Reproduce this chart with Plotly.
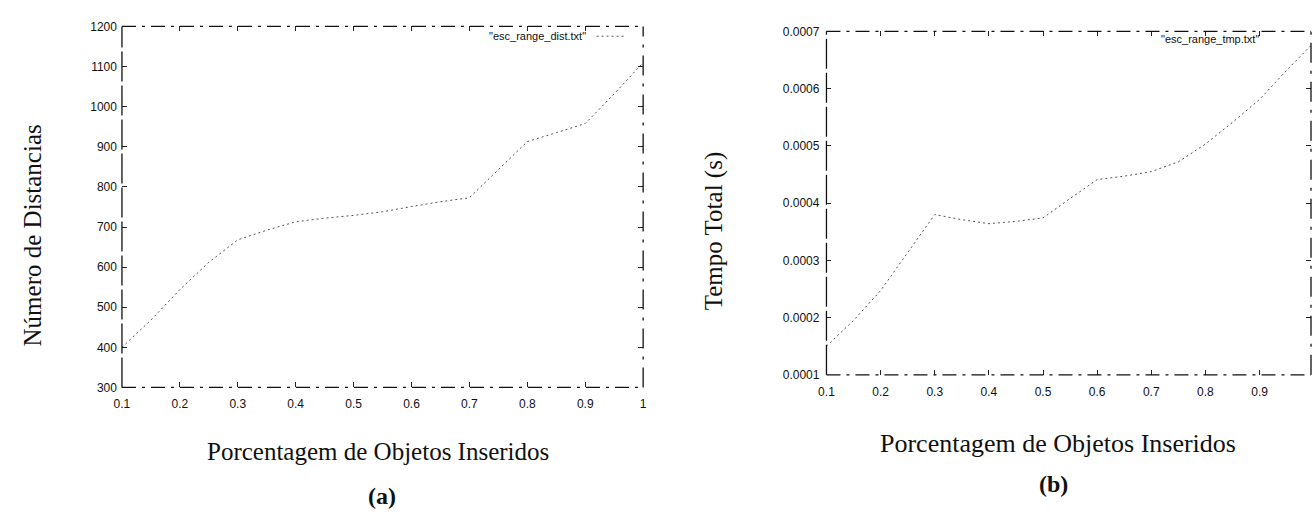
import plotly.graph_objects as go

# ---- data ----
pct = [0.1, 0.15, 0.2, 0.25, 0.3, 0.35, 0.4, 0.45, 0.5, 0.55, 0.6, 0.65, 0.7, 0.75, 0.8, 0.85, 0.9, 0.95, 1.0]
dist = [400, 468, 544, 612, 668, 692, 713, 722, 729, 738, 751, 763, 773, 843, 913, 935, 958, 1032, 1110]
tmp = [0.000150, 0.000195, 0.000247, 0.000313, 0.000380, 0.000371, 0.000364, 0.000368, 0.000374, 0.000408,
       0.000441, 0.000447, 0.000455, 0.000472, 0.000503, 0.000541, 0.000581, 0.000632, 0.000680]
name_a = '"esc_range_dist.txt"'
name_b = '"esc_range_tmp.txt"'

xt_a = [0.1, 0.2, 0.3, 0.4, 0.5, 0.6, 0.7, 0.8, 0.9, 1.0]
xl_a = ["0.1", "0.2", "0.3", "0.4", "0.5", "0.6", "0.7", "0.8", "0.9", "1"]
yt_a = [300, 400, 500, 600, 700, 800, 900, 1000, 1100, 1200]
yl_a = ["300", "400", "500", "600", "700", "800", "900", "1000", "1100", "1200"]
xt_b = [0.1, 0.2, 0.3, 0.4, 0.5, 0.6, 0.7, 0.8, 0.9]
xl_b = ["0.1", "0.2", "0.3", "0.4", "0.5", "0.6", "0.7", "0.8", "0.9"]
yt_b = [0.0001, 0.0002, 0.0003, 0.0004, 0.0005, 0.0006, 0.0007]
yl_b = ["0.0001", "0.0002", "0.0003", "0.0004", "0.0005", "0.0006", "0.0007"]

ytitle_a = "Número de Distancias"
ytitle_b = "Tempo Total (s)"
xtitle = "Porcentagem de Objetos Inseridos"

W, H = 1315, 519
def px(x): return x / W
def py(y): return 1 - y / H

line_style = dict(color="#555555", width=1, dash="2px,3px")

fig = go.Figure()
fig.add_trace(go.Scatter(x=pct, y=dist, mode="lines", line=line_style, xaxis="x", yaxis="y", showlegend=False))
fig.add_trace(go.Scatter(x=pct, y=tmp, mode="lines", line=line_style, xaxis="x2", yaxis="y2", showlegend=False))

tickfont = dict(family="Liberation Sans, Arial", size=12, color="#111")
axis_common = dict(showgrid=False, zeroline=False, showline=False, ticks="inside", ticklen=5,
                   tickcolor="#222", tickfont=tickfont, mirror="ticks")

fig.update_layout(
    width=W, height=H, margin=dict(l=0, r=0, t=0, b=0),
    plot_bgcolor="white", paper_bgcolor="white",
    xaxis=dict(domain=[px(115), px(641)], range=[0.1, 1.0], tickvals=xt_a, ticktext=xl_a,
               anchor="y", ticklabelstandoff=8, **axis_common),
    yaxis=dict(domain=[py(391), py(20)], range=[300, 1200], tickvals=yt_a, ticktext=yl_a,
               anchor="x", ticklabelstandoff=4, **axis_common),
    xaxis2=dict(domain=[px(826), 1.0], range=[0.1, 0.995], tickvals=xt_b, ticktext=xl_b,
                anchor="y2", ticklabelstandoff=8, **axis_common),
    yaxis2=dict(domain=[py(378), py(25)], range=[0.0001, 0.0007], tickvals=yt_b, ticktext=yl_b,
                anchor="x2", ticklabelstandoff=6, **axis_common),
)

# frames (gnuplot border, broken by scan)
frame_dash = "14px,6px,3px,6px"
for xr, yr in (("x", "y"), ("x2", "y2")):
    xd, yd = xr + " domain", yr + " domain"
    fig.add_shape(type="line", xref=xd, yref=yd, x0=0, x1=1, y0=1, y1=1,
                  line=dict(color="#111", width=1.3, dash=frame_dash))
    fig.add_shape(type="line", xref=xd, yref=yd, x0=0, x1=1, y0=0, y1=0,
                  line=dict(color="#111", width=1.3, dash=frame_dash))
    fig.add_shape(type="line", xref=xd, yref=yd, x0=0, x1=0, y0=0, y1=1,
                  line=dict(color="#111", width=1.3, dash="30px,4px"))
    fig.add_shape(type="line", xref=xd, yref=yd, x0=1, x1=1, y0=0, y1=1,
                  line=dict(color="#111", width=1.3, dash="20px,8px,3px,8px"))

# legends (text then sample)
legfont = dict(family="Liberation Sans, Arial", size=11, color="#111")
fig.add_annotation(text=name_a, x=px(585), y=py(30), xref="paper", yref="paper",
                   xanchor="right", yanchor="middle", showarrow=False, font=legfont)
fig.add_shape(type="line", xref="paper", yref="paper", x0=px(594), x1=px(624), y0=py(30), y1=py(30),
              line=line_style)
fig.add_annotation(text=name_b, x=px(1265), y=py(33), xref="paper", yref="paper",
                   xanchor="right", yanchor="middle", showarrow=False, font=legfont)

serif = dict(family="Liberation Serif, Times New Roman", size=25, color="#111")
fig.add_annotation(text=ytitle_a, x=px(25), y=py(235), xref="paper", yref="paper", textangle=-90,
                   showarrow=False, font=serif, xanchor="center", yanchor="middle")
fig.add_annotation(text=ytitle_b, x=px(712), y=py(230), xref="paper", yref="paper", textangle=-90,
                   showarrow=False, font=serif, xanchor="center", yanchor="middle")
fig.add_annotation(text=xtitle, x=px(373), y=py(457), xref="paper", yref="paper",
                   showarrow=False, font=serif, xanchor="center", yanchor="middle")
fig.add_annotation(text=xtitle, x=px(1060), y=py(449), xref="paper", yref="paper",
                   showarrow=False, font=dict(family="Liberation Serif, Times New Roman", size=26, color="#111"),
                   xanchor="center", yanchor="middle")
bold = dict(family="Liberation Serif, Times New Roman", size=24, color="#111")
fig.add_annotation(text="<b>(a)</b>", x=px(377), y=py(503), xref="paper", yref="paper",
                   showarrow=False, font=bold, xanchor="center", yanchor="middle")
fig.add_annotation(text="<b>(b)</b>", x=px(1055), y=py(490), xref="paper", yref="paper",
                   showarrow=False, font=bold, xanchor="center", yanchor="middle")

fig.write_html("out.html")
